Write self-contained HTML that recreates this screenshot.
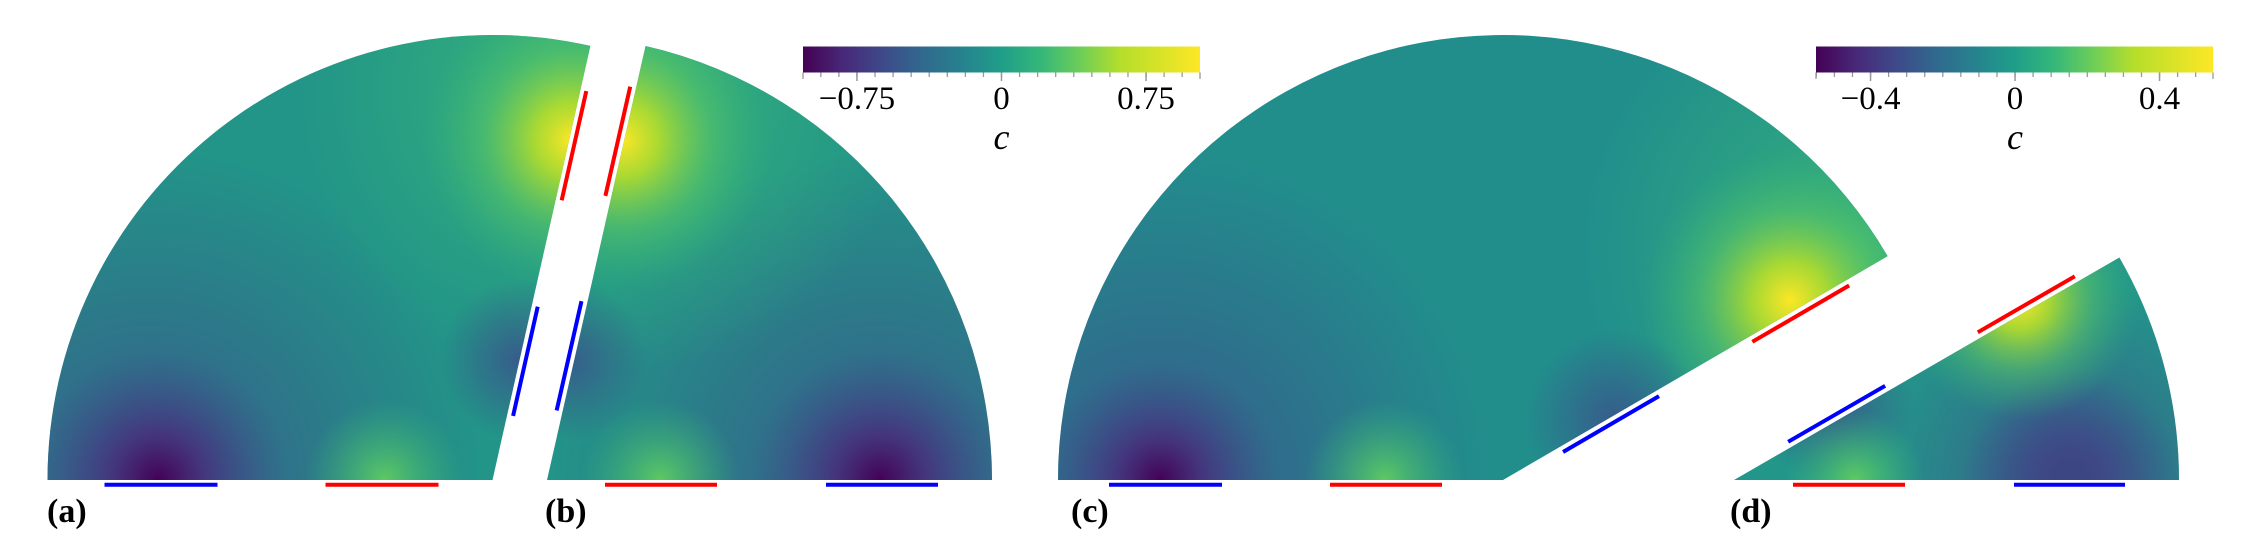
<!DOCTYPE html>
<html><head><meta charset="utf-8"><style>
html,body{margin:0;padding:0;background:#fff;width:2244px;height:542px;overflow:hidden;}
svg{display:block;overflow:hidden;}
text{font-family:"Liberation Serif",serif;}
</style></head><body>
<svg id="fig" width="2244" height="542" viewBox="0 0 2244 542" xmlns="http://www.w3.org/2000/svg">
<defs id="defs">
<linearGradient id="viridis" x1="0" x2="1" y1="0" y2="0">
<stop offset="0" stop-color="#440154"/><stop offset="0.1" stop-color="#482878"/><stop offset="0.2" stop-color="#3e4989"/><stop offset="0.3" stop-color="#31688e"/><stop offset="0.4" stop-color="#26828e"/><stop offset="0.5" stop-color="#1f9e89"/><stop offset="0.6" stop-color="#35b779"/><stop offset="0.7" stop-color="#6ece58"/><stop offset="0.8" stop-color="#b5de2b"/><stop offset="1" stop-color="#fde725"/>
</linearGradient>
</defs>
<g id="panels"></g>
<g id="cbars"></g>
</svg>
<script>
const NS='http://www.w3.org/2000/svg';
const panelNames=['a','b','c','d'];
const panelCx=[492.5,547,1503,1734];
const panelA1=[77.3,0,30.2,0];
const panelA2=[180,77.2,180,30];
const panelBase=['#229488','#229488','#218e8c','#23968a'];
const hotspots=[
 [0,'blue',150,480,330],[0,'purple',158,480,130],[0,'greenWide',570,90,280],[0,'yellow',572,140,150],[0,'blue',520,360,80],[0,'green',385,480,80],
 [1,'blue',880,480,330],[1,'purple',880,480,130],[1,'greenWide',630,90,280],[1,'yellow',622,140,150],[1,'blue',568,360,80],[1,'green',660,480,80],
 [2,'blue',1160,480,330],[2,'purple',1160,480,120],[2,'greenWide',1860,250,280],[2,'yellow',1790,300,150],[2,'blue',1615,420,90],[2,'green',1385,480,80],
 [3,'purple',2070,480,110],[3,'blue',2070,480,200],[3,'yellow',2020,300,120],[3,'blue',1835,405,80],[3,'green',1855,480,70]
];
const stopsByKind={
 purple:[[0,'#440154',1],[0.35,'#472d7b',0.85],[1,'#3b528b',0]],
 blue:[[0,'#3b528b',0.85],[1,'#3b528b',0]],
 yellow:[[0,'#fde725',1],[0.25,'#b5de2b',0.9],[0.6,'#5ec962',0.5],[1,'#35b779',0]],
 green:[[0,'#5ec962',1],[1,'#35b779',0]],
 greenWide:[[0,'#3fbc73',0.8],[1,'#35b779',0]]
};
const R=445, CY=480;
function pt(cx,r,a){const t=a*Math.PI/180;return [cx+r*Math.cos(t),CY-r*Math.sin(t)];}
const pg=document.getElementById('panels');
const defs=document.getElementById('defs');
const electrodes=[
 [[180,54,167,'#ff0000'],[180,275,388,'#0000ff'],[77.3,67,179,'#0000ff'],[77.3,288,400,'#ff0000']],
 [[0,58,170,'#ff0000'],[0,279,391,'#0000ff'],[77.2,70,182,'#0000ff'],[77.2,290,402,'#ff0000']],
 [[180,61,173,'#ff0000'],[180,281,394,'#0000ff'],[30.2,66,177,'#0000ff'],[30.2,285,397,'#ff0000']],
 [[0,59,171,'#ff0000'],[0,280,391,'#0000ff'],[30,66,178,'#0000ff'],[30,285,397,'#ff0000']]
];
const eOffset=[[1,1,1,1],[1,1,-1,-1],[1,1,1,1],[1,1,-1,-1]];
let gid=0;
for(let i=0;i<4;i++){
 const cx=panelCx[i];
 const g=document.createElementNS(NS,'g');
 
 
 const p1=pt(cx,R,panelA1[i]), p2=pt(cx,R,panelA2[i]);
 const d=`M${cx},${CY} L${p1[0]},${p1[1]} A${R},${R} 0 0 0 ${p2[0]},${p2[1]} Z`;
 const bg=document.createElementNS(NS,'path'); bg.setAttribute('d',d); bg.setAttribute('fill',panelBase[i]);
 
 
 g.appendChild(bg);
 hotspots.filter(h=>h[0]===i).forEach(h=>{
  const rg=document.createElementNS(NS,'radialGradient');
  const id='hs'+(gid++);
  rg.setAttribute('id',id);rg.setAttribute('gradientUnits','userSpaceOnUse');
  rg.setAttribute('cx',h[2]);rg.setAttribute('cy',h[3]);rg.setAttribute('r',h[4]);
  stopsByKind[h[1]].forEach(s=>{const st=document.createElementNS(NS,'stop');st.setAttribute('offset',s[0]);st.setAttribute('stop-color',s[1]);st.setAttribute('stop-opacity',s[2]);rg.appendChild(st);});
  defs.appendChild(rg);
  const p=document.createElementNS(NS,'path');
  p.setAttribute('d',d);p.setAttribute('fill','url(#'+id+')');
  
  
  g.appendChild(p);
 });
 electrodes[i].forEach((e,k)=>{
  const a=e[0]*Math.PI/180;
  let s=pt(cx,e[1],e[0]), t=pt(cx,e[2],e[0]);
  let nx,ny;
  if(e[0]===0||e[0]===180){nx=0;ny=4.7;}
  else{const side=eOffset[i][k]; nx=side*Math.sin(a)*6; ny=side*Math.cos(a)*6;}
  const l=document.createElementNS(NS,'line');
  l.setAttribute('x1',s[0]+nx);l.setAttribute('y1',s[1]+ny);l.setAttribute('x2',t[0]+nx);l.setAttribute('y2',t[1]+ny);
  l.setAttribute('stroke',e[3]);l.setAttribute('stroke-width',4);
  
  
  g.appendChild(l);
 });
 const lab=document.createElementNS(NS,'text');
 const lx=[47,545,1071,1730][i];
 lab.setAttribute('x',lx);lab.setAttribute('y',522);lab.setAttribute('font-size','34');lab.setAttribute('font-weight','bold');
 lab.textContent='('+panelNames[i]+')';
 
 
 g.appendChild(lab);
 pg.appendChild(g);
}
const cb1Ticks=[-0.75,0,0.75];
const cb1Labels=['\u22120.75','0','0.75'];
const cb2Ticks=[-0.4,0,0.4];
const cb2Labels=['\u22120.4','0','0.4'];
const cbars=[
 {x0:803,x1:1200,vmin:-1.03,vmax:1.03,ticks:cb1Ticks,labels:cb1Labels,minor:0.09375},
 {x0:1816,x1:2213,vmin:-0.551,vmax:0.548,ticks:cb2Ticks,labels:cb2Labels,minor:0.05}
];
const cg=document.getElementById('cbars');
cbars.forEach((cb,j)=>{
 const g=document.createElementNS(NS,'g');
 
 
 const sx=v=>cb.x0+(v-cb.vmin)/(cb.vmax-cb.vmin)*(cb.x1-cb.x0);
 const r=document.createElementNS(NS,'rect');
 r.setAttribute('x',cb.x0);r.setAttribute('y',46.5);r.setAttribute('width',cb.x1-cb.x0);r.setAttribute('height',26);r.setAttribute('fill','url(#viridis)');
 g.appendChild(r);
 const n0=Math.ceil(cb.vmin/cb.minor-1e-6), n1=Math.floor(cb.vmax/cb.minor+1e-6);
 for(let n=n0;n<=n1;n++){
  const x=sx(n*cb.minor);
  const l=document.createElementNS(NS,'line');
  l.setAttribute('x1',x);l.setAttribute('x2',x);l.setAttribute('y1',72.5);l.setAttribute('y2',77);
  l.setAttribute('stroke','#999');l.setAttribute('stroke-width',1.3);
  g.appendChild(l);
 }
 [cb.x0,cb.x1].forEach(x=>{const l=document.createElementNS(NS,'line');l.setAttribute('x1',x);l.setAttribute('x2',x);l.setAttribute('y1',72.5);l.setAttribute('y2',79);l.setAttribute('stroke','#999');l.setAttribute('stroke-width',1.3);g.appendChild(l);});
 cb.ticks.forEach((v,k)=>{
  const x=sx(v);
  const l=document.createElementNS(NS,'line');
  l.setAttribute('x1',x);l.setAttribute('x2',x);l.setAttribute('y1',72.5);l.setAttribute('y2',81);
  l.setAttribute('stroke','#999');l.setAttribute('stroke-width',1.5);
  g.appendChild(l);
  const t=document.createElementNS(NS,'text');
  t.setAttribute('x',x);t.setAttribute('y',109);t.setAttribute('font-size','33');t.setAttribute('text-anchor','middle');
  t.textContent=cb.labels[k];
  
  
  g.appendChild(t);
 });
 const c=document.createElementNS(NS,'text');
 c.setAttribute('x',sx(0));c.setAttribute('y',149);c.setAttribute('font-size','36');c.setAttribute('font-style','italic');c.setAttribute('text-anchor','middle');
 c.textContent='c';
 
 
 g.appendChild(c);
 cg.appendChild(g);
});
</script>
</body></html>
